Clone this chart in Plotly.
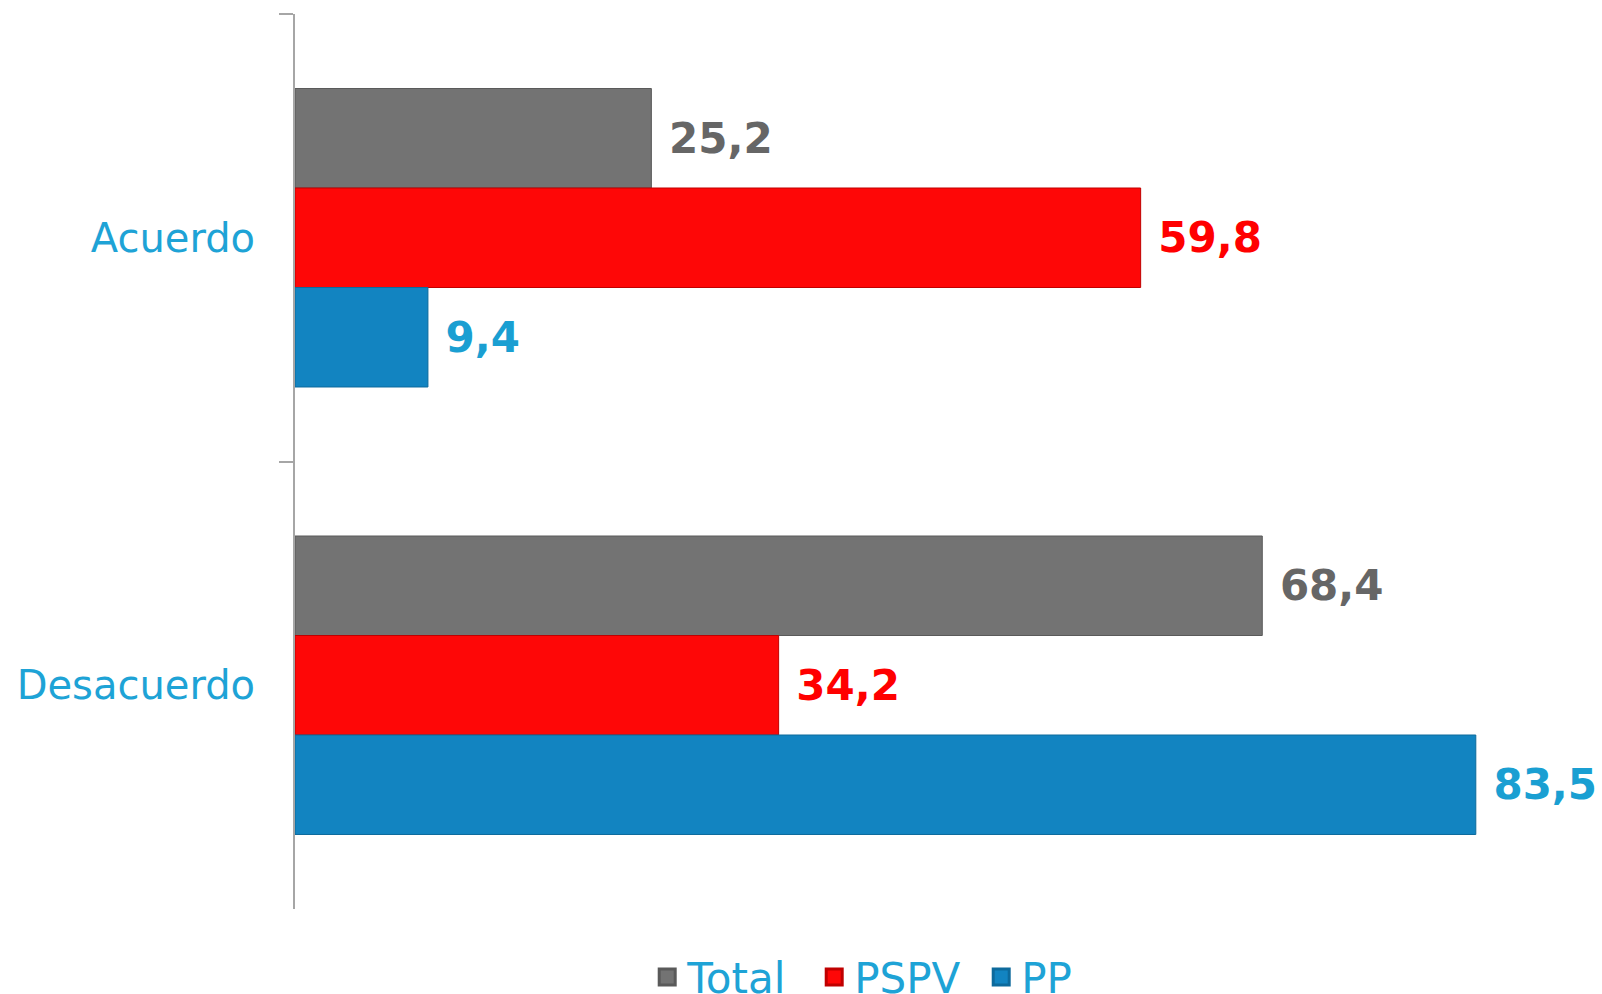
import plotly.graph_objects as go

categories = ["Acuerdo", "Desacuerdo"]
series_names = ["Total", "PSPV", "PP"]
total_values = [25.2, 68.4]
pspv_values = [59.8, 34.2]
pp_values = [9.4, 83.5]

bar_colors = ["#737373", "#FE0707", "#1284C1"]
text_colors = ["#666666", "#FF0000", "#1A9FD2"]
line_colors = ["#5a5a5a", "#c00000", "#0d6a9c"]
label_blue = "#1EA3D6"

def fmt(v):
    return "\u00a0" + f"{v:.1f}".replace(".", ",")

fig = go.Figure()
for name, vals, c, tc, lc in zip(series_names, [total_values, pspv_values, pp_values],
                                 bar_colors, text_colors, line_colors):
    fig.add_trace(go.Bar(
        name=name, y=categories, x=vals, orientation="h",
        marker=dict(color=c, line=dict(color=lc, width=1)),
        text=[fmt(v) for v in vals], textposition="outside",
        textfont=dict(family="DejaVu Sans", size=42, color=tc, weight="bold"),
        constraintext="none", cliponaxis=False,
        legendgroup=name, showlegend=False,
    ))

# legend proxies (larger square symbols)
for name, c, lc in zip(series_names, bar_colors, line_colors):
    fig.add_trace(go.Scatter(
        name=name, x=[None], y=[None], mode="markers",
        marker=dict(symbol="square", size=16, color=c, line=dict(color=lc, width=3)),
        legendgroup=name, showlegend=True, hoverinfo="skip",
    ))

fig.update_layout(
    width=1602, height=994,
    margin=dict(l=295, r=6, t=14, b=85),
    paper_bgcolor="white", plot_bgcolor="white",
    barmode="group", bargap=0.333, bargroupgap=0,
    font=dict(family="DejaVu Sans", color=label_blue),
    xaxis=dict(range=[0, 92], visible=False, showgrid=False, zeroline=False),
    yaxis=dict(autorange="reversed", showline=True, linecolor="#a6a6a6", linewidth=2,
               ticks="outside", tickson="boundaries", ticklen=14, tickcolor="#a6a6a6",
               tickwidth=2, showgrid=False, ticklabelstandoff=30,
               tickfont=dict(family="DejaVu Sans", size=40, color=label_blue)),
    legend=dict(orientation="h", x=0.404, xanchor="left", xref="container",
                y=0.017, yanchor="middle", yref="container",
                font=dict(family="DejaVu Sans", size=42, color=label_blue),
                itemwidth=30, traceorder="normal",
                entrywidth=122, entrywidthmode="pixels"),
    showlegend=True,
)

fig.write_html("out.html", config={"displayModeBar": False},
               post_script="document.body.style.margin='0';document.body.style.overflow='hidden';")
